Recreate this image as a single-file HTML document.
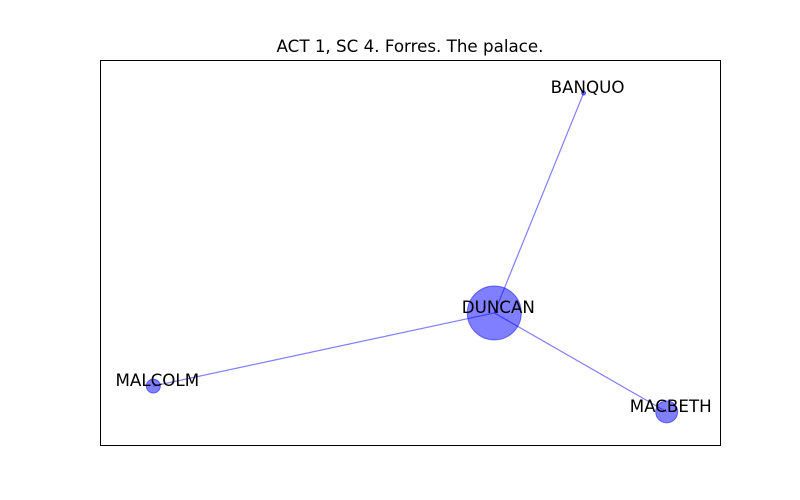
<!DOCTYPE html>
<html><head><meta charset="utf-8"><style>
body{margin:0;background:#fff;}
svg{display:block;font-family:"DejaVu Sans","Liberation Sans",sans-serif;}
</style></head><body>
<svg id="chart" width="800" height="500">
<rect width="800" height="500" fill="#fff"/>
<text x="410" y="52" font-size="16.7" text-anchor="middle">ACT 1, SC 4. Forres. The palace.</text>
<g id="edges"></g><g id="nodes"></g><g id="labels"></g>
<rect x="100.5" y="60.5" width="620" height="385" fill="none" stroke="#000" stroke-width="1"/>
</svg>
<script>
const names = ["BANQUO","DUNCAN","MALCOLM","MACBETH"];
const xs = [0.780, 0.636, 0.086, 0.914];
const ys = [0.914, 0.343, 0.153, 0.086];
const radii = [2, 27, 7, 11];
const edgeFrom = [1, 1, 1];
const edgeTo = [0, 2, 3];
const X0=100,W=620,Y0=60,H=385;
const sx=v=>X0+v*W, sy=v=>Y0+(1-v)*H;
const NS="http://www.w3.org/2000/svg";
const eg=document.getElementById('edges'),ng=document.getElementById('nodes'),lg=document.getElementById('labels');
for(let i=0;i<edgeFrom.length;i++){
  const l=document.createElementNS(NS,'line');
  l.setAttribute('x1',sx(xs[edgeFrom[i]]));l.setAttribute('y1',sy(ys[edgeFrom[i]]));
  l.setAttribute('x2',sx(xs[edgeTo[i]]));l.setAttribute('y2',sy(ys[edgeTo[i]]));
  l.setAttribute('stroke','#0000ff');l.setAttribute('stroke-opacity','0.5');l.setAttribute('stroke-width','1.2');
  
  
  eg.appendChild(l);
}
for(let i=0;i<names.length;i++){
  const c=document.createElementNS(NS,'circle');
  c.setAttribute('cx',sx(xs[i]));c.setAttribute('cy',sy(ys[i]));c.setAttribute('r',radii[i]);
  c.setAttribute('fill','#0000ff');c.setAttribute('fill-opacity','0.5');
  c.setAttribute('stroke','#0000ff');c.setAttribute('stroke-opacity','0.5');
  
  
  ng.appendChild(c);
  const t=document.createElementNS(NS,'text');
  t.setAttribute('x',sx(xs[i])+4);t.setAttribute('y',sy(ys[i])-6);
  t.setAttribute('font-size','16.7');t.setAttribute('text-anchor','middle');t.setAttribute('dominant-baseline','central');
  t.textContent=names[i];
  
  
  lg.appendChild(t);
}
</script>
</body></html>
